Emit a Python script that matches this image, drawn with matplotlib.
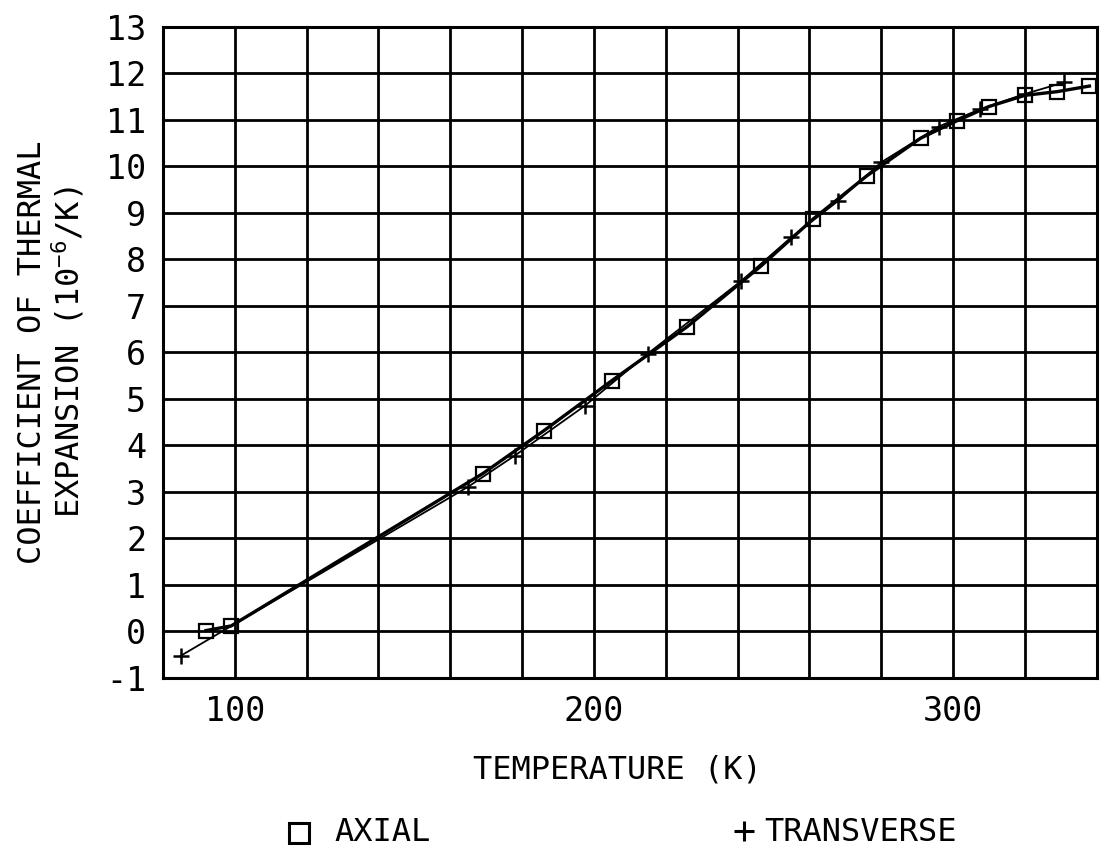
import matplotlib
matplotlib.use("Agg")
import matplotlib.pyplot as plt
from matplotlib.lines import Line2D
from matplotlib.ticker import MultipleLocator, FixedLocator

# ---- data ----
axial_T = [92, 99, 169, 186, 205, 226, 246.5, 261, 276, 291, 301, 310, 320, 329, 338]
axial_cte = [0.02, 0.12, 3.39, 4.31, 5.39, 6.55, 7.85, 8.86, 9.79, 10.60, 10.97, 11.28, 11.52, 11.60, 11.72]

trans_T = [85, 165, 178, 197.5, 215, 241, 255, 268, 280, 296, 307.5, 320, 331]
trans_cte = [-0.52, 3.11, 3.78, 4.85, 5.97, 7.53, 8.47, 9.25, 10.08, 10.85, 11.22, 11.55, 11.80]

x_major = [100, 200, 300]
x_labels = ["100", "200", "300"]
y_ticks = list(range(-1, 14))

FONT = ["DejaVu Sans Mono", "DejaVu Sans"]
plt.rcParams["font.family"] = FONT
plt.rcParams["mathtext.fontset"] = "custom"
plt.rcParams["mathtext.rm"] = "DejaVu Sans Mono"
plt.rcParams["mathtext.default"] = "rm"

fig = plt.figure(figsize=(11.01, 8.55), dpi=100)
ax = fig.add_axes([0.148, 0.207, 0.848, 0.762])

ax.plot(axial_T, axial_cte, color="black", lw=2.4, marker="s", ms=10,
        mfc="none", mec="black", mew=1.6, zorder=3)
ax.plot(trans_T, trans_cte, color="black", lw=1.3, marker="+", ms=12,
        mew=1.8, zorder=3)

ax.set_xlim(80, 340)
ax.set_ylim(-1, 13)
ax.xaxis.set_major_locator(FixedLocator(x_major))
ax.set_xticklabels(x_labels)
ax.xaxis.set_minor_locator(MultipleLocator(20))
ax.set_yticks(y_ticks)
ax.set_yticklabels([str(v) for v in y_ticks])

ax.grid(True, which="both", axis="x", color="black", lw=2.0)
ax.grid(True, which="major", axis="y", color="black", lw=2.0)
ax.tick_params(which="both", length=0)
ax.tick_params(axis="y", labelsize=24, pad=12)
ax.tick_params(axis="x", labelsize=24, pad=12)
for s in ax.spines.values():
    s.set_linewidth(2.2)
    s.set_color("black")

ax.set_ylabel("COEFFICIENT OF THERMAL\nEXPANSION (10$^{-6}$/K)", fontsize=23,
              labelpad=14, linespacing=1.05)

fig.text(0.561, 0.099, "TEMPERATURE (K)", fontsize=23, ha="center", va="center")

# legend entries placed like the original
fig.add_artist(Line2D([0.272], [0.026], marker="s", ms=14, mfc="none", mec="black",
                      mew=2.2, transform=fig.transFigure))
fig.text(0.304, 0.026, "AXIAL", fontsize=23, ha="left", va="center")
fig.add_artist(Line2D([0.676], [0.028], marker="+", ms=14, mew=2.2, color="black",
                      transform=fig.transFigure))
fig.text(0.694, 0.026, "TRANSVERSE", fontsize=23, ha="left", va="center")

fig.savefig("out.png", dpi=100, facecolor="white")
